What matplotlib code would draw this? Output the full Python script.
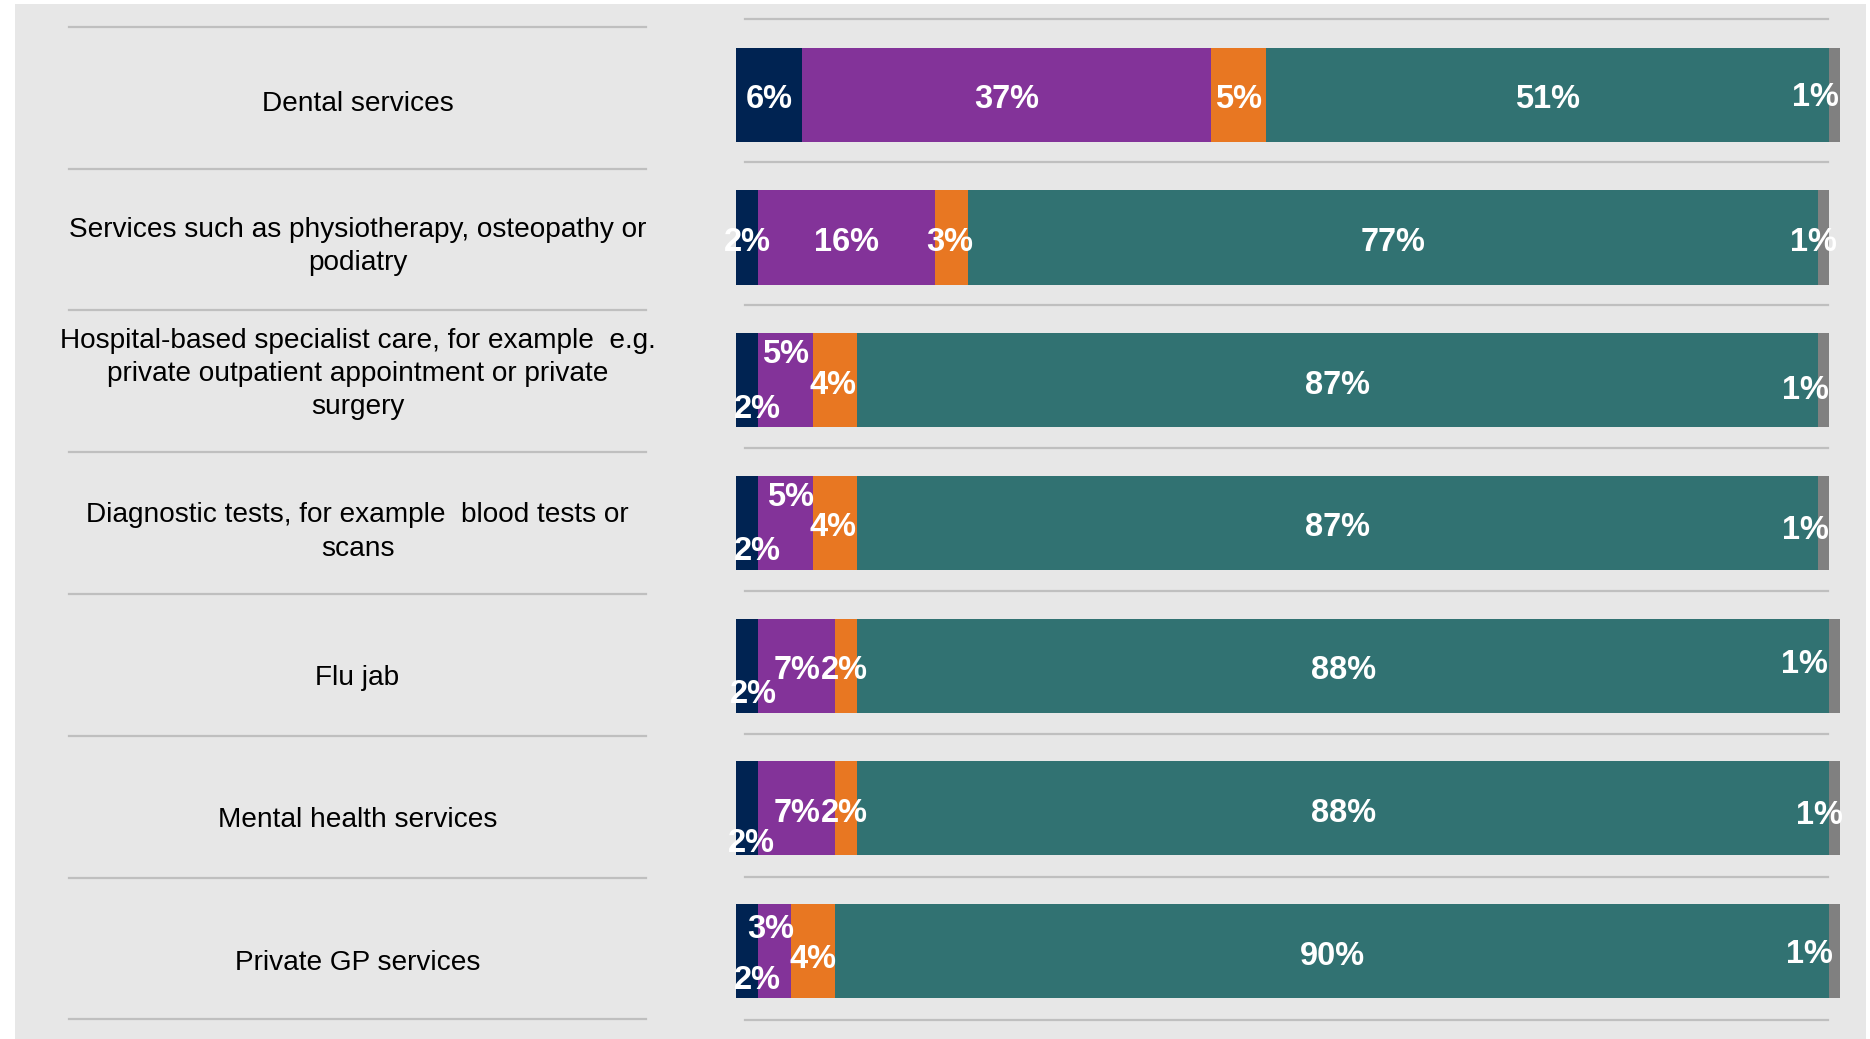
import matplotlib
matplotlib.use("Agg")
import matplotlib.pyplot as plt
from matplotlib.lines import Line2D
from matplotlib.patches import Rectangle

# ---- data -------------------------------------------------------------
services = [
    "Dental services",
    "Services such as physiotherapy, osteopathy or\npodiatry",
    "Hospital-based specialist care, for example  e.g.\nprivate outpatient appointment or private\nsurgery",
    "Diagnostic tests, for example  blood tests or\nscans",
    "Flu jab",
    "Mental health services",
    "Private GP services",
]
navy_vals = [6, 2, 2, 2, 2, 2, 2]
purple_vals = [37, 16, 5, 5, 7, 7, 3]
orange_vals = [5, 3, 4, 4, 2, 2, 4]
teal_vals = [51, 77, 87, 87, 88, 88, 90]
grey_vals = [1, 1, 1, 1, 1, 1, 1]

series = [navy_vals, purple_vals, orange_vals, teal_vals, grey_vals]
colors = ["#002352", "#833399", "#E87722", "#317272", "#808080"]

# label nudges in pixels (dx right, dy down) so small segments stay readable
nudges = [
    [(0, 0), (0, 0), (10, 24), (10, 24), (6, 24), (4, 30), (10, 24)],
    [(0, 0), (0, 0), (0, -31), (5, -30), (0, 0), (0, 0), (-4, -27)],
    [(0, 0), (-2, 0), (-2, 0), (-2, 0), (-2, 0), (-2, 0), (0, 3)],
    [(0, 0)] * 7,
    [(-19, -2), (-10, 0), (-18, 5), (-18, 3), (-30, -6), (-15, 2), (-25, -2)],
]
base_dy = 5
row_label_dy = [9, 9, -6, 9, 12, 12, 12]

# ---- figure -----------------------------------------------------------
W, H = 1870, 1039
fig = plt.figure(figsize=(W / 100, H / 100), dpi=100, facecolor="white")
fig.patches.append(Rectangle((15 / W, 0), (1866 - 15) / W, (H - 4) / H,
                             transform=fig.transFigure, facecolor="#E7E7E7",
                             edgecolor="none", zorder=-5))

# separator rules
for k in range(8):
    yl = 26.7 + k * 141.8
    fig.add_artist(Line2D([69 / W, 646 / W], [1 - yl / H, 1 - yl / H],
                          color="#BFBFBF", lw=1.6, transform=fig.transFigure,
                          zorder=-4))
    yr = 19 + k * 143.0
    fig.add_artist(Line2D([745 / W, 1828 / W], [1 - yr / H, 1 - yr / H],
                          color="#BFBFBF", lw=1.6, transform=fig.transFigure,
                          zorder=-4))

top_px, bot_px = 23.45, 1022.4
ax = fig.add_axes([736 / W, 1 - bot_px / H, 1104 / W, (bot_px - top_px) / H])
ax.set_zorder(2)
ax.set_xlim(0, 100)
ax.set_ylim(len(services) - 0.5, -0.5)
ax.axis("off")

rows = list(range(len(services)))
left = [0] * len(services)
for vals, col, nud in zip(series, colors, nudges):
    ax.barh(rows, vals, left=left, height=0.66, color=col, edgecolor="none")
    for i, (v, l) in enumerate(zip(vals, left)):
        dx, dy = nud[i]
        ax.annotate(f"{v}%", xy=(l + v / 2, i), xytext=(dx, -(dy + base_dy)),
                    textcoords="offset pixels", ha="center", va="center",
                    color="white", fontsize=23.5, fontweight="bold",
                    family="Liberation Sans", annotation_clip=False)
    left = [l + v for l, v in zip(left, vals)]

# category labels on the left
for i, name in enumerate(services):
    ax.annotate(name, xy=(357.5 / W, i), xycoords=(fig.transFigure, ax.transData),
                xytext=(0, -row_label_dy[i]), textcoords="offset pixels",
                ha="center", va="center", fontsize=20.2, color="black",
                family="Liberation Sans", linespacing=1.36,
                annotation_clip=False)

fig.savefig("out.png", dpi=100, facecolor="white")
